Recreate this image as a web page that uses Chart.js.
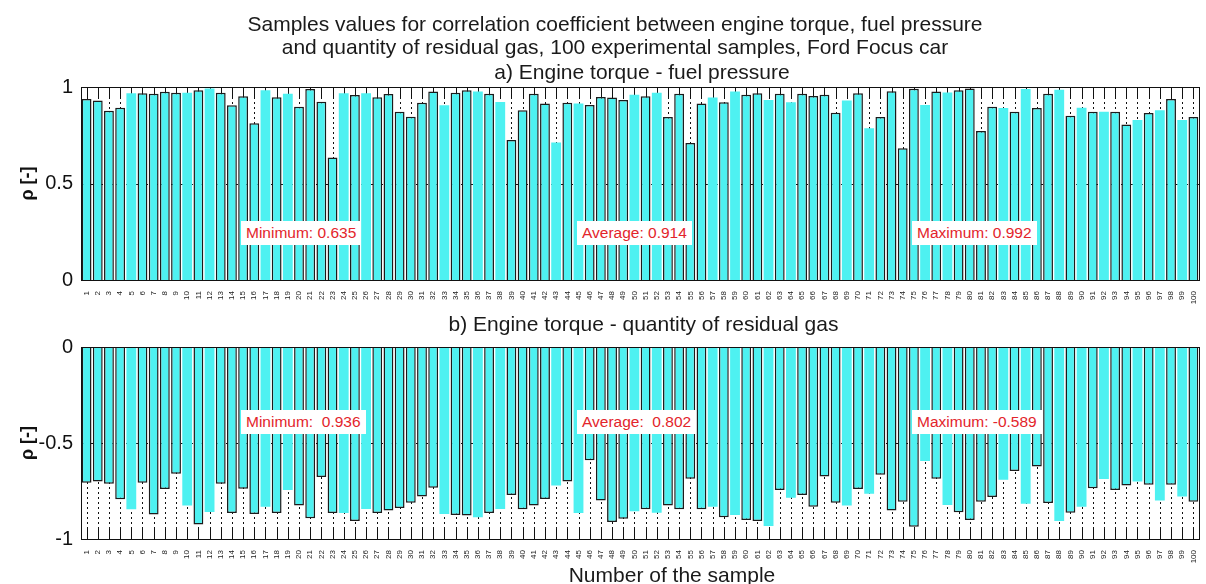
<!DOCTYPE html>
<html>
<head>
<meta charset="utf-8">
<script src="https://cdn.jsdelivr.net/npm/chart.js@4/dist/chart.umd.min.js"></script>
<style>
  body { margin: 0; background: #fff; width: 1206px; height: 584px; position: relative; overflow: hidden;
         font-family: "Liberation Sans", Arial, sans-serif; }
  canvas { position: absolute; left: 0; }
  #chartA { top: 0; }
  #chartB { top: 315px; }
  .txt { position: absolute; left: 0; text-align: center; color: #1a1a1a; white-space: nowrap;
         font-size: 21px; line-height: 23px; }
  .note { position: absolute; background: #fff; color: #e3242b; font-size: 15.5px; line-height: 18px; padding: 3px 5px; white-space: pre; }
</style>
</head>
<body>
<canvas id="chartA" width="1206" height="315"></canvas>
<canvas id="chartB" width="1206" height="269"></canvas>

<div class="txt" style="top:12px;width:1230px">Samples values for correlation coefficient between engine torque, fuel pressure<br>and quantity of residual gas, 100 experimental samples, Ford Focus car</div>
<div class="txt" style="top:60px;width:1284px">a) Engine torque - fuel pressure</div>
<div class="txt" style="top:312px;width:1287px">b) Engine torque - quantity of residual gas</div>
<div class="txt" style="top:563px;width:1344px">Number of the sample</div>

<div class="note" style="left:241px;top:221px">Minimum: 0.635</div>
<div class="note" style="left:577px;top:221px">Average: 0.914</div>
<div class="note" style="left:912px;top:221px">Maximum: 0.992</div>
<div class="note" style="left:241px;top:410px">Minimum:  0.936</div>
<div class="note" style="left:577px;top:410px">Average:  0.802</div>
<div class="note" style="left:912px;top:410px">Maximum: -0.589</div>

<script>
// sample numbers (x tick labels)
const samples = ["1","2","3","4","5","6","7","8","9","10","11","12","13","14","15","16","17","18","19","20",
  "21","22","23","24","25","26","27","28","29","30","31","32","33","34","35","36","37","38","39","40",
  "41","42","43","44","45","46","47","48","49","50","51","52","53","54","55","56","57","58","59","60",
  "61","62","63","64","65","66","67","68","69","70","71","72","73","74","75","76","77","78","79","80",
  "81","82","83","84","85","86","87","88","89","90","91","92","93","94","95","96","97","98","99","100"];

// a) engine torque - fuel pressure
const torqueFuel = [
  0.938, 0.930, 0.877, 0.893, 0.967, 0.967, 0.965, 0.975, 0.970, 0.970,
  0.983, 0.992, 0.970, 0.905, 0.952, 0.812, 0.983, 0.947, 0.965, 0.898,
  0.990, 0.924, 0.635, 0.967, 0.958, 0.967, 0.947, 0.964, 0.872, 0.846,
  0.919, 0.977, 0.905, 0.970, 0.983, 0.977, 0.965, 0.922, 0.725, 0.879,
  0.965, 0.914, 0.713, 0.919, 0.915, 0.907, 0.948, 0.945, 0.933, 0.960,
  0.952, 0.970, 0.845, 0.965, 0.710, 0.914, 0.945, 0.921, 0.977, 0.960,
  0.967, 0.933, 0.965, 0.921, 0.965, 0.953, 0.960, 0.867, 0.930, 0.967,
  0.786, 0.845, 0.978, 0.682, 0.991, 0.907, 0.977, 0.972, 0.983, 0.992,
  0.772, 0.898, 0.891, 0.872, 0.989, 0.891, 0.965, 0.986, 0.851, 0.893,
  0.872, 0.872, 0.872, 0.806, 0.829, 0.865, 0.879, 0.938, 0.829, 0.845
];

// b) engine torque - quantity of residual gas
const torqueGas = [
  -0.707, -0.700, -0.712, -0.793, -0.845, -0.707, -0.872, -0.740, -0.660, -0.826,
  -0.925, -0.859, -0.712, -0.865, -0.738, -0.870, -0.832, -0.865, -0.745, -0.826,
  -0.892, -0.677, -0.865, -0.865, -0.906, -0.844, -0.865, -0.852, -0.839, -0.811,
  -0.778, -0.733, -0.870, -0.875, -0.878, -0.887, -0.865, -0.844, -0.771, -0.845,
  -0.825, -0.792, -0.722, -0.700, -0.865, -0.590, -0.799, -0.911, -0.894, -0.856,
  -0.845, -0.863, -0.825, -0.845, -0.686, -0.845, -0.832, -0.887, -0.875, -0.901,
  -0.906, -0.932, -0.745, -0.785, -0.771, -0.832, -0.675, -0.811, -0.826, -0.740,
  -0.764, -0.665, -0.852, -0.806, -0.936, -0.594, -0.686, -0.823, -0.861, -0.901,
  -0.806, -0.781, -0.691, -0.646, -0.816, -0.623, -0.813, -0.906, -0.863, -0.832,
  -0.736, -0.688, -0.745, -0.722, -0.700, -0.717, -0.799, -0.717, -0.778, -0.806
];

// bars that came out without the dark edge in the original plot
const plainBars = [5,10,12,17,19,24,26,33,36,38,43,45,50,52,57,59,62,64,69,71,76,78,83,85,88,90,92,95,97,99];

const barFill = "#4ef1f1";

// matlab style box: dotted grid, inner ticks, frame
const matlabBox = {
  id: "matlabBox",
  beforeDatasetsDraw(chart) {
    const { ctx, chartArea: a, scales: { x, y } } = chart;
    ctx.save();
    ctx.strokeStyle = "#111";
    ctx.lineWidth = 1;
    ctx.setLineDash([2, 3]);
    x.ticks.forEach((t, i) => {
      const px = Math.round(x.getPixelForTick(i)) + 0.5;
      ctx.beginPath(); ctx.moveTo(px, a.top); ctx.lineTo(px, a.bottom); ctx.stroke();
    });
    y.ticks.forEach((t, i) => {
      if (i === 0 || i === y.ticks.length - 1) return;
      const py = Math.round(y.getPixelForTick(i)) + 0.5;
      ctx.beginPath(); ctx.moveTo(a.left, py); ctx.lineTo(a.right, py); ctx.stroke();
    });
    ctx.setLineDash([]);
    x.ticks.forEach((t, i) => {
      const px = Math.round(x.getPixelForTick(i)) + 0.5;
      ctx.beginPath();
      ctx.moveTo(px, a.top); ctx.lineTo(px, a.top + 10);
      ctx.moveTo(px, a.bottom); ctx.lineTo(px, a.bottom - 12);
      ctx.stroke();
    });
    y.ticks.forEach((t, i) => {
      const py = Math.round(y.getPixelForTick(i)) + 0.5;
      ctx.beginPath();
      ctx.moveTo(a.left, py); ctx.lineTo(a.left + 10, py);
      ctx.moveTo(a.right, py); ctx.lineTo(a.right - 10, py);
      ctx.stroke();
    });
    ctx.restore();
  },
  afterDatasetsDraw(chart) {
    const { ctx, chartArea: a } = chart;
    ctx.save();
    ctx.strokeStyle = "#111";
    ctx.lineWidth = 1;
    ctx.strokeRect(Math.round(a.left) + 0.5, Math.round(a.top) + 0.5,
                   Math.round(a.right - a.left), Math.round(a.bottom - a.top));
    ctx.restore();
  }
};

function makeChart(id, values, yMin, yMax, padTop, xHeight) {
  const ctx = document.getElementById(id).getContext("2d");
  return new Chart(ctx, {
    type: "bar",
    data: {
      labels: samples,
      datasets: [{
        data: values,
        backgroundColor: barFill,
        borderColor: "#1b1b1b",
        borderWidth: samples.map(s => plainBars.includes(Number(s)) ? 0 : 1.5),
        borderSkipped: "start",
        barPercentage: 0.88,
        categoryPercentage: 1
      }]
    },
    options: {
      responsive: false,
      animation: false,
      layout: { padding: { top: padTop, right: 2, left: 0, bottom: 0 } },
      plugins: { legend: { display: false }, tooltip: { enabled: false } },
      scales: {
        x: {
          grid: { display: false },
          border: { display: false },
          ticks: {
            autoSkip: false, minRotation: 90, maxRotation: 90,
            padding: 3, color: "#222",
            font: { family: "Liberation Sans", size: 8 }
          },
          afterFit: s => { s.height = xHeight; }
        },
        y: {
          min: yMin, max: yMax,
          grid: { display: false, drawTicks: false },
          border: { display: false },
          ticks: {
            stepSize: 0.5, padding: 8, color: "#111",
            font: { family: "Liberation Sans", size: 20 },
            callback: v => String(Number(v))
          },
          title: {
            display: true, text: "ρ [-]", color: "#111",
            font: { family: "Liberation Sans", size: 18, weight: "bold" },
            padding: { top: 17, bottom: 0 }
          },
          afterFit: s => { s.width = 81; }
        }
      }
    },
    plugins: [matlabBox]
  });
}

makeChart("chartA", torqueFuel, 0, 1, 87, 35);
makeChart("chartB", torqueGas, -1, 0, 32, 45);
</script>
</body>
</html>
